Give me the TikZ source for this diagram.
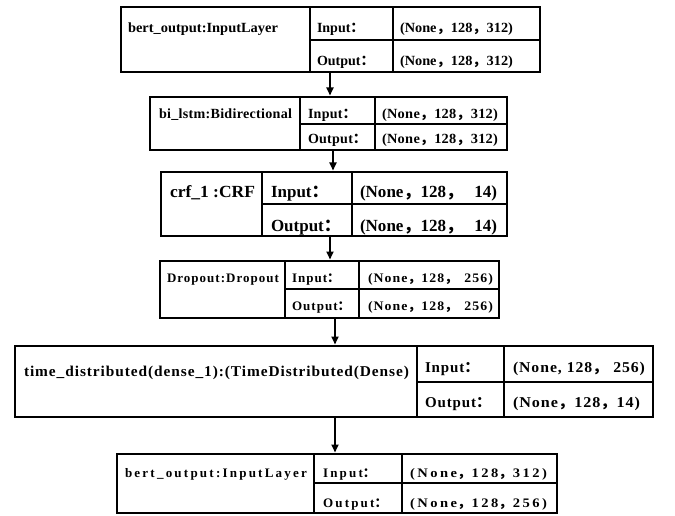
\documentclass[tikz,border=0pt]{standalone}
\usepackage{fontspec}
\usepackage{graphicx}
\setmainfont{Liberation Serif}
\newfontfamily\cjk{Noto Sans CJK SC}
\usetikzlibrary{arrows.meta}
\newcommand\fcm{{\cjk ，}}
\newcommand\fcl{{\cjk ：}}
\newcommand\lsfont[2]{\fontsize{#1}{#1}\selectfont\bfseries\addfontfeature{LetterSpace=#2}}
\newcommand\fitw[2]{\resizebox{#1pt}{\height}{#2}}
\tikzset{
  box/.style={draw, line width=2pt, anchor=north west, outer sep=0pt, inner sep=0pt},
  vdiv/.style={line width=1.8pt},
  hdiv/.style={line width=1.4pt},
  t/.style={anchor=base west, inner sep=0pt, outer sep=0pt},
  f1/.style={font=\lsfont{14}{0}},
  f2/.style={font=\lsfont{14}{2}},
  f3/.style={font=\lsfont{17}{0}},
  f4/.style={font=\lsfont{13}{8}},
  f5/.style={font=\lsfont{15}{6}},
  f6/.style={font=\lsfont{13}{17}},
  arr/.style={line width=1.8pt, -{Triangle[width=7pt,length=8pt]}, shorten >=1.5pt}
}
\begin{document}
\begin{tikzpicture}[x=1pt,y=-1pt]
\useasboundingbox (0,0) rectangle (675,516);
% ---- layer 1
\node[box, minimum width=419pt, minimum height=65pt] (L1) at (121,7) {};
\draw[vdiv] (L1.north -| 310,0) -- (L1.south -| 310,0);
\draw[vdiv] (L1.north -| 393,0) -- (L1.south -| 393,0);
\draw[hdiv] (310,40) -- (L1.east |- 0,40);
\node[t,f1] (L1n) at (128,33) {\fitw{150}{bert\_output:InputLayer}};
\node[t,f1] (L1i) at (317,33) {Input\fcl};
\node[t,f1] (L1o) at (317,66) {Output\fcl};
\node[t,f1] (L1iv) at (400,33) {\fitw{113}{(None\fcm128\fcm312)}};
\node[t,f1] (L1ov) at (400,66) {\fitw{113}{(None\fcm128\fcm312)}};
% ---- layer 2
\node[box, minimum width=357pt, minimum height=53pt] (L2) at (150,97) {};
\draw[vdiv] (L2.north -| 300,0) -- (L2.south -| 300,0);
\draw[vdiv] (L2.north -| 375,0) -- (L2.south -| 375,0);
\draw[hdiv] (300,124) -- (L2.east |- 0,124);
\node[t,f2] (L2n) at (159,119) {\fitw{133}{bi\_lstm:Bidirectional}};
\node[t,f2] (L2i) at (308,119) {Input\fcl};
\node[t,f2] (L2o) at (308,144) {Output\fcl};
\node[t,f2] (L2iv) at (382,119) {\fitw{116}{(None\fcm128\fcm312)}};
\node[t,f2] (L2ov) at (382,144) {\fitw{116}{(None\fcm128\fcm312)}};
% ---- layer 3
\node[box, minimum width=346pt, minimum height=64pt] (L3) at (161,172) {};
\draw[vdiv] (L3.north -| 262,0) -- (L3.south -| 262,0);
\draw[vdiv] (L3.north -| 352,0) -- (L3.south -| 352,0);
\draw[hdiv] (262,204) -- (L3.east |- 0,204);
\node[t,f3] (L3n) at (170,197) {\fitw{85}{crf\_1 :CRF}};
\node[t,f3] (L3i) at (271,197) {Input\fcl};
\node[t,f3] (L3o) at (271,231) {Output\fcl};
\node[t,f3] (L3iv) at (360,197) {\fitw{137}{(None\fcm128\fcm\hspace{11pt}14)}};
\node[t,f3] (L3ov) at (360,231) {\fitw{137}{(None\fcm128\fcm\hspace{11pt}14)}};
% ---- layer 4
\node[box, minimum width=339pt, minimum height=57pt] (L4) at (160,261) {};
\draw[vdiv] (L4.north -| 285,0) -- (L4.south -| 285,0);
\draw[vdiv] (L4.north -| 359,0) -- (L4.south -| 359,0);
\draw[hdiv] (285,289) -- (L4.east |- 0,289);
\node[t,f4] (L4n) at (167,282) {\fitw{112}{Dropout:Dropout}};
\node[t,f4] (L4i) at (292,282) {Input\fcl};
\node[t,f4] (L4o) at (292,310) {Output\fcl};
\node[t,f4] (L4iv) at (368,282) {\fitw{125}{(None\fcm128\fcm\hspace{6pt}256)}};
\node[t,f4] (L4ov) at (368,310) {\fitw{125}{(None\fcm128\fcm\hspace{6pt}256)}};
% ---- layer 5
\node[box, minimum width=638pt, minimum height=71pt] (L5) at (15,346) {};
\draw[vdiv] (L5.north -| 417,0) -- (L5.south -| 417,0);
\draw[vdiv] (L5.north -| 504,0) -- (L5.south -| 504,0);
\draw[hdiv] (417,382) -- (L5.east |- 0,382);
\node[t,f5] (L5n) at (24,376) {\fitw{385}{time\_distributed(dense\_1):(TimeDistributed(Dense)}};
\node[t,f5] (L5i) at (425,372) {Input\fcl};
\node[t,f5] (L5o) at (425,407) {Output\fcl};
\node[t,f5] (L5iv) at (513,372) {\fitw{132}{(None, 128\fcm\hspace{5pt}256)}};
\node[t,f5] (L5ov) at (513,407) {\fitw{127}{(None\fcm128\fcm14)}};
% ---- layer 6
\node[box, minimum width=440pt, minimum height=59pt] (L6) at (117,454) {};
\draw[vdiv] (L6.north -| 314,0) -- (L6.south -| 314,0);
\draw[vdiv] (L6.north -| 402,0) -- (L6.south -| 402,0);
\draw[hdiv] (314,483) -- (L6.east |- 0,483);
\node[t,f6] (L6n) at (125,477) {\fitw{182}{bert\_output:InputLayer}};
\node[t,f6] (L6i) at (323,477) {Input\fcl};
\node[t,f6] (L6o) at (323,507) {Output\fcl};
\node[t,f6] (L6iv) at (410,477) {\fitw{137}{(None\fcm128\fcm312)}};
\node[t,f6] (L6ov) at (410,507) {\fitw{137}{(None\fcm128\fcm256)}};
% ---- arrows
\draw[arr] (L1.south -| 330,0) -- (L2.north -| 330,0);
\draw[arr] (L2.south -| 333,0) -- (L3.north -| 333,0);
\draw[arr] (L3.south -| 330,0) -- (L4.north -| 330,0);
\draw[arr] (L4.south -| 335,0) -- (L5.north -| 335,0);
\draw[arr] (L5.south -| 335,0) -- (L6.north -| 335,0);
\end{tikzpicture}
\end{document}
